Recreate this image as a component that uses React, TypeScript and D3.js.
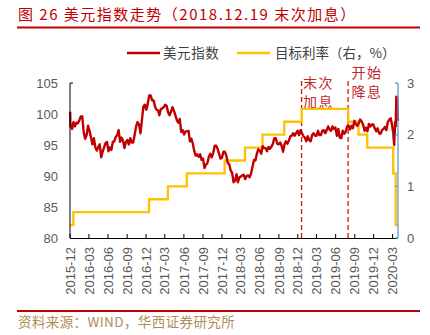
import React from "react";
import * as d3 from "d3";

// ---- data ----
const dxyHeadDates = ["2015-12-01", "2015-12-02", "2015-12-03"];
const dxyHeadValues = [100.0, 100.2, 98.0];

// weekly (Fridays) from 2015-12-04 to 2020-02-28
const dxyWeeklyStart = "2015-12-04";
const dxyWeekly = [
  98.3, 97.6, 98.7, 98.0,
  // 2016
  98.6, 98.5, 99.0, 99.6, 99.6,
  97.0, 96.0, 96.6, 98.1,
  97.3, 96.2, 95.1, 96.1,
  94.6, 94.1, 94.7, 95.1, 93.0,
  93.9, 94.6, 95.3, 95.5,
  94.0, 94.6, 94.2, 95.5,
  95.6, 96.3, 96.6, 97.4, 95.5,
  96.2, 95.7, 94.5, 95.5,
  95.8, 95.1, 96.1, 95.4, 95.4,
  96.6, 98.0, 98.7, 98.3,
  96.9, 99.0, 101.2, 101.5,
  100.7, 101.6, 103.0, 103.0, 102.2,
  // 2017
  102.2, 101.2, 100.7, 100.6,
  99.8, 100.8, 100.9, 101.1,
  101.5, 101.3, 100.3, 99.8, 100.4,
  101.1, 100.5, 99.8, 99.0,
  98.6, 99.2, 97.1, 97.4,
  96.7, 97.2, 97.2, 97.3, 95.6,
  96.0, 95.2, 94.0, 93.3,
  93.5, 93.1, 93.5, 92.6,
  92.8, 91.3, 91.8, 92.1, 93.1,
  93.6, 93.0, 93.7, 94.9,
  94.9, 94.4, 93.6, 92.8,
  92.9, 93.9, 93.9, 93.3, 92.1,
  // 2018
  91.9, 90.9, 90.5, 89.0,
  89.2, 90.3, 89.0, 89.8,
  89.9, 90.1, 90.2, 89.5, 90.0,
  90.1, 89.8, 90.4, 91.5,
  92.6, 92.5, 93.6, 94.3,
  94.1, 93.6, 94.8, 94.5, 94.5,
  94.0, 94.7, 94.4, 94.7,
  95.2, 96.1, 96.1, 95.2, 95.1,
  95.4, 94.9, 93.9, 95.1,
  95.6, 95.2, 95.7, 96.4,
  96.5, 96.9, 96.5, 96.9, 97.3,
  96.6, 97.4, 96.9, 96.4,
  // 2019
  96.2, 95.6, 96.4, 95.8,
  95.6, 96.6, 96.9, 96.5,
  96.5, 97.3, 96.6, 96.6, 97.3,
  97.4, 96.9, 97.4, 98.0,
  97.5, 97.3, 98.0, 97.6, 97.8,
  96.5, 97.6, 96.2, 96.1,
  97.3, 96.8, 97.1, 98.0,
  98.1, 97.5, 98.1, 97.7, 98.9,
  98.4, 98.1, 98.5, 99.1,
  98.8, 98.3, 97.3, 97.8,
  97.2, 98.4, 98.0, 98.3, 98.3,
  97.7, 97.2, 97.7, 96.9,
  // 2020
  96.8, 97.4, 97.6, 97.9, 97.4, 98.7, 99.1, 99.3, 98.1,
];

const dxyTailDates = [
  "2020-03-02", "2020-03-03", "2020-03-04", "2020-03-05", "2020-03-06",
  "2020-03-09", "2020-03-10", "2020-03-11", "2020-03-12", "2020-03-13",
  "2020-03-16", "2020-03-17", "2020-03-18", "2020-03-19", "2020-03-20",
  "2020-03-23", "2020-03-24", "2020-03-25", "2020-03-26", "2020-03-27",
];
const dxyTailValues = [
  97.4, 97.1, 97.3, 96.7, 96.0,
  95.0, 96.4, 96.5, 97.5, 98.7,
  98.0, 99.6, 101.2, 102.8, 102.8,
  102.5, 101.8, 101.0, 99.4, 98.9,
];

const fedDates = [
  "2015-12-01", "2015-12-17", "2016-12-15", "2017-03-16", "2017-06-15",
  "2017-12-14", "2018-03-22", "2018-06-14", "2018-09-27", "2018-12-20",
  "2019-08-01", "2019-09-19", "2019-10-31", "2020-03-04", "2020-03-16",
  "2020-03-27",
];
const fedRates = [
  0.25, 0.5, 0.75, 1.0, 1.25,
  1.5, 1.75, 2.0, 2.25, 2.5,
  2.25, 2.0, 1.75, 1.25, 0.25,
  0.25,
];

const xTickLabels = [
  "2015-12", "2016-03", "2016-06", "2016-09", "2016-12", "2017-03",
  "2017-06", "2017-09", "2017-12", "2018-03", "2018-06", "2018-09",
  "2018-12", "2019-03", "2019-06", "2019-09", "2019-12", "2020-03",
];
const leftTicks = [80, 85, 90, 95, 100, 105];
const rightTicks = [0, 1, 2, 3];
const eventDates = ["2018-12-19", "2019-07-31"];
const eventLabels = [["末次", "加息"], ["开始", "降息"]];

const seriesNames = ["美元指数", "目标利率（右，%）"];

// ---- chart ----
const parse = (s: string) => new Date(s + "T00:00:00Z");
const RED = "#C00000";
const YELLOW = "#FFC000";
const CJK = "'Noto Sans CJK SC', sans-serif";
const NUM = "'Liberation Sans', Arial, sans-serif";

export default function App() {
  const W = 430, H = 335;
  const x0 = 70, x1 = 398, yTop = 83, yBot = 238;
  const x = d3.scaleUtc([parse("2015-12-01"), parse("2020-03-27")], [x0, x1]);
  const yL = d3.scaleLinear([80, 105], [yBot, yTop]);
  const yR = d3.scaleLinear([0, 3], [yBot, yTop]);

  const dxyPts: [Date, number][] = [];
  dxyHeadDates.forEach((d, i) => dxyPts.push([parse(d), dxyHeadValues[i]]));
  const ws = parse(dxyWeeklyStart);
  dxyWeekly.forEach((v, i) => dxyPts.push([d3.utcDay.offset(ws, i * 7), v]));
  dxyTailDates.forEach((d, i) => dxyPts.push([parse(d), dxyTailValues[i]]));

  const dxyLine = d3.line<[Date, number]>().x((d) => x(d[0])).y((d) => yL(d[1]))(dxyPts) || "";
  const fedPts: [Date, number][] = fedDates.map((d, i) => [parse(d), fedRates[i]]);
  const fedLine =
    d3.line<[Date, number]>().curve(d3.curveStepAfter).x((d) => x(d[0])).y((d) => yR(d[1]))(fedPts) || "";

  return (
    <svg width={W} height={H} style={{ position: "absolute", left: 0, top: 0, background: "#fff" }}>
      {/* title */}
      <text x={18} y={19.5} fill={RED} fontFamily={CJK} fontSize={15} letterSpacing={1.5}>
        图 26 美元指数走势（2018.12.19 末次加息）
      </text>
      <line x1={17} x2={420} y1={27.5} y2={27.5} stroke={RED} strokeWidth={2} />

      {/* legend */}
      <line x1={127} x2={160} y1={53} y2={53} stroke={RED} strokeWidth={2.5} />
      <text x={163} y={53} dy="0.36em" fill="#404040" fontFamily={CJK} fontSize={13.5} letterSpacing={0.6}>
        {seriesNames[0]}
      </text>
      <line x1={237} x2={270} y1={53} y2={53} stroke={YELLOW} strokeWidth={2.5} />
      <text x={275} y={53} dy="0.36em" fill="#404040" fontFamily={CJK} fontSize={13.5}>
        {seriesNames[1]}
      </text>

      {/* left axis labels */}
      {leftTicks.map((t) => (
        <text key={t} x={58} y={yL(t)} dy="0.35em" textAnchor="end" fill="#595959" fontFamily={NUM} fontSize={13}>
          {t}
        </text>
      ))}
      {rightTicks.map((t) => (
        <text key={t} x={407} y={yR(t)} dy="0.35em" textAnchor="start" fill="#595959" fontFamily={NUM} fontSize={13}>
          {t}
        </text>
      ))}

      {/* event lines */}
      {eventDates.map((d) => (
        <line
          key={d}
          x1={x(parse(d))}
          x2={x(parse(d))}
          y1={81}
          y2={yBot}
          stroke="#D01010"
          strokeWidth={1.3}
          strokeDasharray="5,3"
        />
      ))}
      {eventLabels.map((lines, i) => {
        const cx = i === 0 ? x(parse(eventDates[0])) + 17 : x(parse(eventDates[1])) + 19;
        const cy = i === 0 ? 83 : 73;
        return lines.map((s, j) => (
          <text
            key={i + "-" + j}
            x={cx}
            y={cy + j * 18.5}
            dy="0.36em"
            textAnchor="middle"
            fill="#C0282D"
            fontFamily={CJK}
            fontSize={14}
            letterSpacing={1.5}
          >
            {s}
          </text>
        ));
      })}

      {/* series */}
      <path d={fedLine} fill="none" stroke={YELLOW} strokeWidth={2.3} />
      <path d={dxyLine} fill="none" stroke={RED} strokeWidth={2.4} strokeLinejoin="round" />

      {/* axes */}
      <line x1={x0} x2={x0} y1={yTop} y2={yBot} stroke="#000" strokeWidth={1} />
      <line x1={x0} x2={x0 + 3} y1={yTop} y2={yTop} stroke="#000" strokeWidth={1} />
      <line x1={x0} x2={x1} y1={yBot + 0.5} y2={yBot + 0.5} stroke="#000" strokeWidth={1} />
      {xTickLabels.map((l) => {
        const xx = x(parse(l + "-01"));
        return (
          <g key={l}>
            <line x1={xx} x2={xx} y1={yBot} y2={yBot - 4} stroke="#000" strokeWidth={1} />
            <text
              transform={`translate(${xx},${247}) rotate(-90)`}
              dy="0.36em"
              textAnchor="end"
              fill="#595959"
              fontFamily={NUM}
              fontSize={13}
            >
              {l}
            </text>
          </g>
        );
      })}
      <line x1={x1} x2={x1} y1={yTop} y2={yBot} stroke="#5B9BD5" strokeWidth={1.3} />
      {rightTicks.map((t) => (
        <line key={t} x1={x1 - 3} x2={x1} y1={yR(t)} y2={yR(t)} stroke="#5B9BD5" strokeWidth={1.3} />
      ))}

      {/* source */}
      <line x1={17} x2={420} y1={311} y2={311} stroke={RED} strokeWidth={2} />
      <text x={18} y={322} dy="0.36em" fill="#B08D57" fontFamily={CJK} fontSize={13.5} letterSpacing={0.4}>
        资料来源：WIND，华西证券研究所
      </text>
    </svg>
  );
}
